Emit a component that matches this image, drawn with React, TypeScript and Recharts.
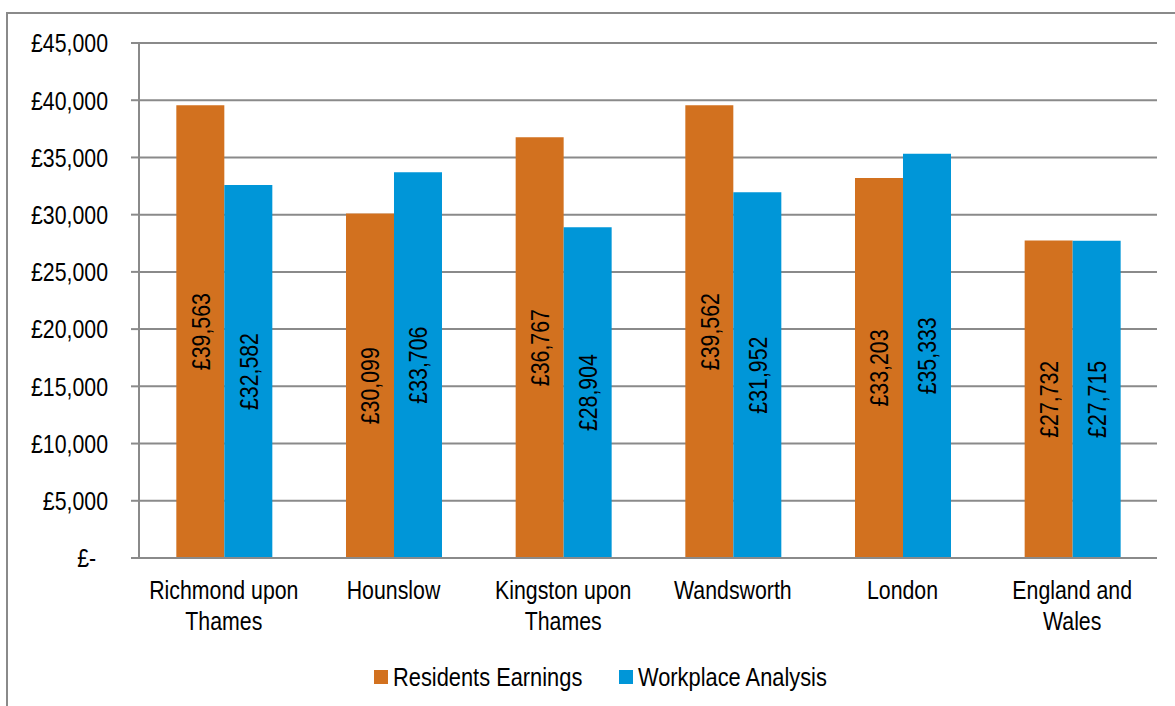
import { Bar, BarChart, CartesianGrid, LabelList, Legend, XAxis, YAxis } from "recharts"

const categories = [
  "Richmond upon\nThames",
  "Hounslow",
  "Kingston upon\nThames",
  "Wandsworth",
  "London",
  "England and\nWales",
]
const residents = [39563, 30099, 36767, 39562, 33203, 27732]
const workplace = [32582, 33706, 28904, 31952, 35333, 27715]
const yTicks = [0, 5000, 10000, 15000, 20000, 25000, 30000, 35000, 40000, 45000]
const edgeTicks = [0, 1, 2, 3, 4, 5, 6]

const data = categories.map((name, i) => ({
  name,
  residents: residents[i],
  workplace: workplace[i],
}))

// no narrow font installed, so squeeze Liberation Sans horizontally
const FONT = "'Liberation Sans', Arial, sans-serif"
const SQ = 0.82
const GREY = "#8a8a8a"
const ORANGE = "#d2711f"
const BLUE = "#0096d8"

const money = (v: number) =>
  v === 0 ? "£-\u00a0\u00a0" : "£" + v.toLocaleString("en-GB")

const CatTick = (props: any) => {
  const { x, y, payload } = props
  const lines = String(payload.value).split("\n")
  return (
    <text
      transform={`translate(${x} ${y}) scale(${SQ} 1)`}
      textAnchor="middle"
      fontFamily={FONT}
      fontSize={26}
      fill="#000"
    >
      {lines.map((l, i) => (
        <tspan key={i} x={0} dy={i === 0 ? 40 : 31}>
          {l}
        </tspan>
      ))}
    </text>
  )
}

const YTick = (props: any) => {
  const { x, y, payload } = props
  return (
    <text
      transform={`translate(${x} ${y}) scale(${SQ} 1)`}
      textAnchor="end"
      dominantBaseline="central"
      fontFamily={FONT}
      fontSize={26}
      fill="#000"
    >
      {money(payload.value)}
    </text>
  )
}

const BarLabel = (props: any) => {
  const { x, y, width, height, value } = props
  const cx = x + width / 2
  const cy = y + height / 2
  return (
    <text
      transform={`translate(${cx} ${cy}) rotate(-90) scale(${SQ} 1)`}
      textAnchor="middle"
      dominantBaseline="central"
      fontFamily={FONT}
      fontSize={26}
      fill="#000"
    >
      {money(value)}
    </text>
  )
}

const legendItems = [
  { label: "Residents Earnings", color: ORANGE },
  { label: "Workplace Analysis", color: BLUE },
]

const LegendContent = () => (
  <svg width={470} height={30}>
    {legendItems.map((item, i) => (
      <g key={i} transform={`translate(${i * 245} 0)`}>
        <rect x={0} y={8} width={14} height={14} fill={item.color} />
        <text
          transform={`translate(19 15) scale(0.84 1)`}
          dominantBaseline="central"
          fontFamily={FONT}
          fontSize={26}
          fill="#000"
        >
          {item.label}
        </text>
      </g>
    ))}
  </svg>
)

export default function App() {
  return (
    <>
      <div
        style={{
          position: "absolute",
          left: 6,
          top: 12,
          width: 1169,
          height: 694,
          boxSizing: "border-box",
          borderLeft: `2px solid ${GREY}`,
          borderTop: `2px solid ${GREY}`,
        }}
      />
      <div style={{ position: "absolute", left: 0, top: 0 }}>
        <BarChart
          width={1175}
          height={706}
          data={data}
          margin={{ top: 43, right: 18, left: 0, bottom: 17 }}
          barCategoryGap="22%"
          barGap={0}
        >
          <CartesianGrid horizontal vertical={false} stroke={GREY} strokeWidth={2} />
          <XAxis
            xAxisId={0}
            type="number"
            domain={[0, 6]}
            ticks={edgeTicks}
            tick={false}
            height={1}
            tickSize={7}
            axisLine={{ stroke: GREY, strokeWidth: 2 }}
            tickLine={{ stroke: GREY, strokeWidth: 2 }}
          />
          <XAxis
            xAxisId="cat"
            dataKey="name"
            height={100}
            axisLine={false}
            tickLine={false}
            tickSize={0}
            tickMargin={0}
            interval={0}
            tick={<CatTick />}
          />
          <YAxis
            width={139}
            domain={[0, 45000]}
            ticks={yTicks}
            tickSize={8}
            tickMargin={23}
            axisLine={{ stroke: GREY, strokeWidth: 2 }}
            tickLine={{ stroke: GREY, strokeWidth: 2 }}
            tick={<YTick />}
          />
          <Legend
            verticalAlign="bottom"
            content={<LegendContent />}
            wrapperStyle={{ left: 374, top: 662, width: 470, height: 30 }}
          />
          <Bar xAxisId="cat" dataKey="residents" name="Residents Earnings" fill={ORANGE} isAnimationActive={false}>
            <LabelList dataKey="residents" content={<BarLabel />} />
          </Bar>
          <Bar xAxisId="cat" dataKey="workplace" name="Workplace Analysis" fill={BLUE} isAnimationActive={false}>
            <LabelList dataKey="workplace" content={<BarLabel />} />
          </Bar>
        </BarChart>
      </div>
    </>
  )
}
